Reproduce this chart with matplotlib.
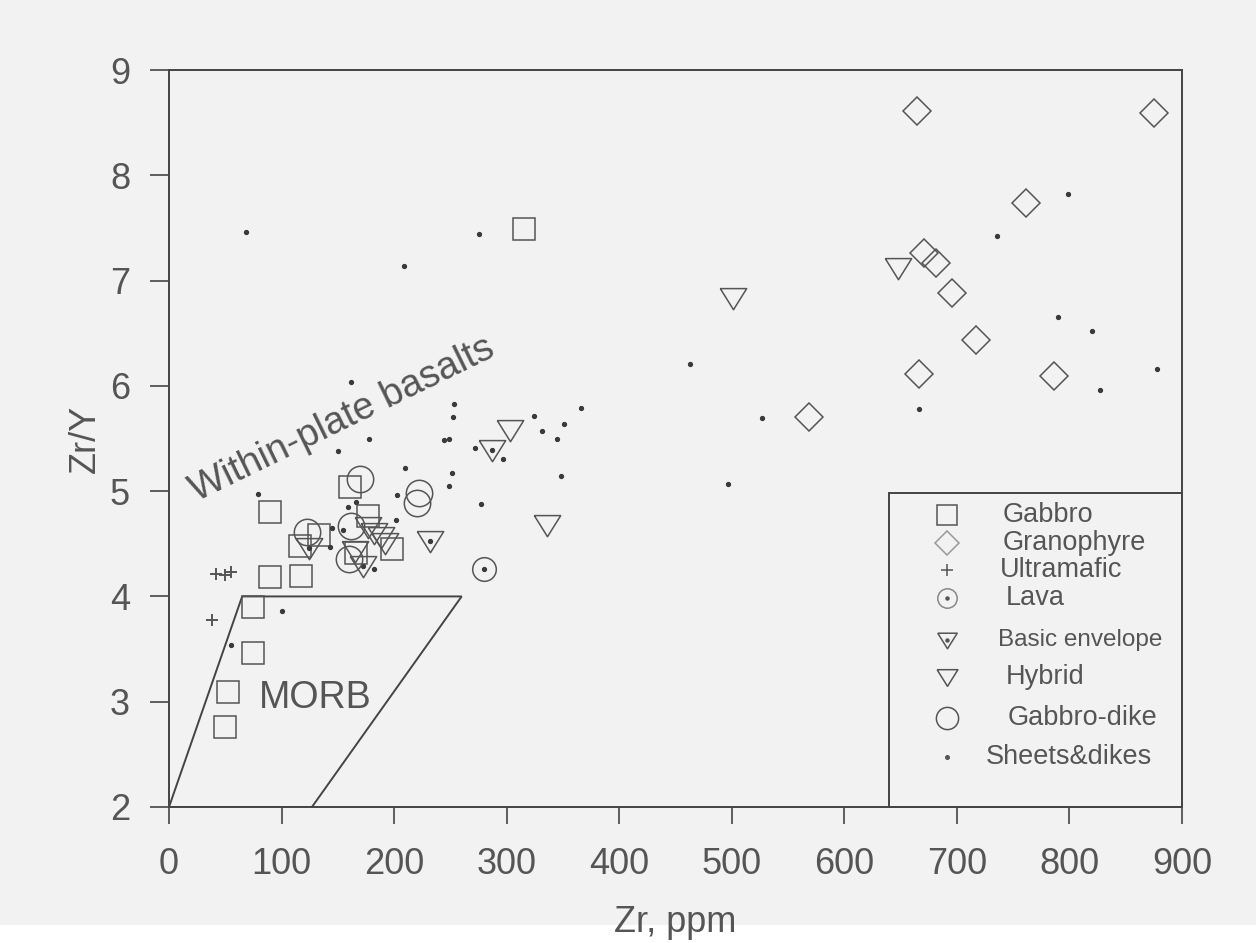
import matplotlib.pyplot as plt
from matplotlib.patches import Polygon, Rectangle

plt.rcParams['font.family'] = ['Liberation Sans', 'DejaVu Sans']

INK = '#555555'
LINE = '#444444'
BG = '#f2f2f2'

# Zr (ppm) and Zr/Y for each rock group
gabbro_zr = [90, 161, 177, 133, 116, 198, 166, 90, 117, 75, 75, 52, 50, 315]
gabbro_zry = [4.80, 5.04, 4.76, 4.58, 4.48, 4.45, 4.41, 4.18, 4.19, 3.90, 3.46, 3.09, 2.76, 7.49]

granophyre_zr = [665, 875, 761, 671, 681, 696, 717, 666, 786, 569]
granophyre_zry = [8.61, 8.59, 7.74, 7.26, 7.17, 6.88, 6.44, 6.11, 6.09, 5.70]

ultramafic_zr = [42, 50, 55, 38]
ultramafic_zry = [4.21, 4.20, 4.23, 3.78]

lava_zr = [280]
lava_zry = [4.26]

basic_zr = [124, 172, 232, 287]
basic_zry = [4.46, 4.29, 4.53, 5.39]

hybrid_zr = [177, 182, 188, 192, 165, 303, 336, 501, 648]
hybrid_zry = [4.66, 4.60, 4.56, 4.51, 4.43, 5.58, 4.68, 6.83, 7.12]

dike_zr = [170, 222, 220, 123, 162, 160]
dike_zry = [5.12, 4.98, 4.89, 4.61, 4.67, 4.36]

sheets_zr = [68, 275, 209, 162, 253, 252, 244, 249, 178, 150, 210, 251, 249, 79,
             203, 202, 145, 143, 182, 166, 159, 155, 100, 55, 324, 366, 351, 331,
             345, 272, 297, 348, 277, 463, 527, 497, 666, 736, 799, 790, 820, 878,
             827]
sheets_zry = [7.46, 7.44, 7.14, 6.04, 5.83, 5.70, 5.49, 5.50, 5.50, 5.38, 5.22, 5.17,
              5.05, 4.97, 4.96, 4.73, 4.65, 4.47, 4.26, 4.90, 4.85, 4.63, 3.86, 3.54,
              5.71, 5.79, 5.64, 5.57, 5.50, 5.41, 5.31, 5.14, 4.88, 6.21, 5.69, 5.07,
              5.78, 7.42, 7.82, 6.65, 6.52, 6.16, 5.96]

# MORB field outline
morb_zr = [0, 65, 260, 127]
morb_zry = [2, 4, 4, 2]

x_ticks = [0, 100, 200, 300, 400, 500, 600, 700, 800, 900]
y_ticks = [2, 3, 4, 5, 6, 7, 8, 9]

# wide down-pointing triangle
tri = [(-1, 0.75), (1, 0.75), (0, -0.85), (-1, 0.75)]

fig = plt.figure(figsize=(12.56, 9.43), dpi=100, facecolor=BG)
fig.patches.append(Rectangle((0, 0), 1, 18 / 943, transform=fig.transFigure,
                             facecolor='white', edgecolor='none', zorder=-5))
ax = fig.add_axes([169 / 1256, 1 - 807 / 943, 1013 / 1256, 737 / 943])
ax.set_facecolor(BG)

open_style = dict(linestyle='none', markerfacecolor='none', markeredgecolor=INK,
                  markeredgewidth=1.1)

ax.plot(sheets_zr, sheets_zry, linestyle='none', marker='o', ms=2.8,
        color='#3a3a3a', zorder=4)
ax.plot(gabbro_zr, gabbro_zry, marker='s', ms=16, **open_style)
ax.plot(granophyre_zr, granophyre_zry, marker='D', ms=14.5, **open_style)
ax.plot(ultramafic_zr, ultramafic_zry, linestyle='none', marker='+', ms=9,
        markeredgewidth=1.4, color=INK)
ax.plot(lava_zr, lava_zry, marker='o', ms=17, **open_style)
ax.plot(lava_zr, lava_zry, linestyle='none', marker='o', ms=2.8, color='#3a3a3a')
ax.plot(basic_zr, basic_zry, marker=tri, ms=19, **open_style)
ax.plot(basic_zr, basic_zry, linestyle='none', marker='o', ms=2.8, color='#3a3a3a')
ax.plot(hybrid_zr, hybrid_zry, marker=tri, ms=19, **open_style)
ax.plot(dike_zr, dike_zry, marker='o', ms=19, **open_style)

ax.add_patch(Polygon(list(zip(morb_zr, morb_zry)), closed=True, fill=False,
                     edgecolor=LINE, linewidth=1.4))
ax.text(130, 3.04, 'MORB', fontsize=27, color=INK, ha='center', va='center')
ax.text(24, 4.90, 'Within-plate basalts', fontsize=27.5, color=INK, rotation=26,
        rotation_mode='anchor', ha='left', va='baseline')

ax.set_xlim(0, 900)
ax.set_ylim(2, 9)
ax.set_xticks(x_ticks)
ax.set_yticks(y_ticks)
for s in ax.spines.values():
    s.set_color(LINE)
    s.set_linewidth(1.4)
ax.tick_params(axis='both', direction='out', color=LINE, width=1.2,
               labelsize=26, labelcolor=INK)
ax.tick_params(axis='y', length=14, pad=14)
ax.tick_params(axis='x', length=12, pad=17)

ax.set_xlabel('Zr, ppm', fontsize=26, color=INK, va='baseline')
ax.xaxis.set_label_coords(0.5, -0.17)
ax.set_ylabel('Zr/Y', fontsize=26, color=INK, va='center')
ax.yaxis.set_label_coords(-0.083, 0.5)

# legend panel in the lower right corner
ax.add_patch(Rectangle((0.711, 0), 0.289, 0.426, transform=ax.transAxes,
                       fill=False, edgecolor=LINE, linewidth=1.4, clip_on=False))
legend_rows = [
    ('Gabbro', 0.396, 0.823, 19.5, dict(marker='s', ms=15)),
    ('Granophyre', 0.358, 0.823, 19.5, dict(marker='D', ms=12, markeredgecolor='#999999')),
    ('Ultramafic', 0.322, 0.820, 19.5, dict(marker='+', ms=9)),
    ('Lava', 0.284, 0.826, 19.5, dict(marker='o', ms=14, markeredgecolor='#888888')),
    ('Basic envelope', 0.227, 0.818, 17.5, dict(marker=tri, ms=14)),
    ('Hybrid', 0.176, 0.826, 19.5, dict(marker=tri, ms=15)),
    ('Gabbro-dike', 0.121, 0.828, 19.5, dict(marker='o', ms=16)),
    ('Sheets&dikes', 0.068, 0.806, 19.5, dict(marker='o', ms=2.5, markerfacecolor='#555555')),
]
for label, y, xt, fs, mk in legend_rows:
    style = dict(linestyle='none', markerfacecolor='none', markeredgecolor=INK,
                 markeredgewidth=1.1)
    style.update(mk)
    ax.plot([0.768], [y], transform=ax.transAxes, clip_on=False, **style)
    if label in ('Lava', 'Basic envelope'):
        ax.plot([0.768], [y], transform=ax.transAxes, linestyle='none',
                marker='o', ms=2.2, color=INK)
    ax.text(xt, y, label, transform=ax.transAxes, fontsize=fs, color=INK,
            ha='left', va='center')

fig.savefig('out.png', dpi=100, facecolor=BG)
